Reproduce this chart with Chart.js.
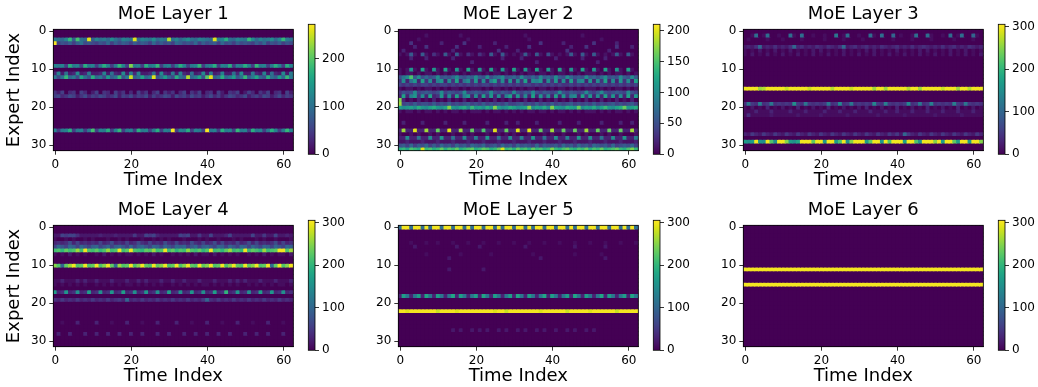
<!DOCTYPE html>
<html><head><meta charset="utf-8">
<script src="https://cdn.jsdelivr.net/npm/chart.js@4.4.1/dist/chart.umd.min.js"></script>
<style>
html,body{margin:0;padding:0;background:#fff;}
body{width:1038px;height:387px;overflow:hidden;position:relative;}
canvas{position:absolute;}
</style></head><body>
<script>
const timeCount = 63;
const expertCount = 32;
const xTickValues = [0, 20, 40, 60];
const yTickValues = [0, 10, 20, 30];
const layerTitles = ['MoE Layer 1', 'MoE Layer 2', 'MoE Layer 3', 'MoE Layer 4', 'MoE Layer 5', 'MoE Layer 6'];
const colorMax = [272, 210, 306, 305, 305, 305];
const cbTicksA = [0, 100, 200];
const cbTicksB = [0, 50, 100, 150, 200];
const cbTicksC = [0, 100, 200, 300];
const colorbarTicks = [cbTicksA, cbTicksB, cbTicksC, cbTicksC, cbTicksC, cbTicksC];

// [expert index, counts over the 63 time steps]; each character c = parseInt(c, 36) * 10 tokens
const layer1Rows = [
  [2,  "ba9ci8ja9q 8cab9da8cb aq9cbad9ba oac9bda9cb a9qbcha9cb aid9cabd9c iba"],
  [3,  "r576858a67 6576958687 5868759686 7598676958 6785967586 7658695768 576"],
  [9,  "cbc5hbc5hb c5bhc5bic5 mbc5hbci5b c5bhc5bci5 bch5cbh5cb hc5ibc5bhc 5hc"],
  [11, "3c2a23d23b 223c2a32d2 b3c223a2d3 2b2c32a23d 2b23c22a3d 22b32c2a32 d2b"],
  [12, "b6ai9b6ga7 h9b6f8ai7b p8ag9bq7af 96ha8o9bg7 kq8ah9bf7a i8bg97ha8f 9ib"],
  [16, "4250340530 2504305240 3052403504 2403504250 3405204350 2530425034 052"],
  [17, "5634652463 5465346254 6354625346 5264536452 4635246534 6245365246 354"],
  [26, "c5bch5bc5b j5cbh5ci5b c5hbc5bh5c br5cbh5cb5 rbc5hbc5ib c5hbc5bhc5 bic"]
];
const layer2Rows = [
  [1,  "0000000100 0000001000 0000000000 0001000000 0000000010 0000000000 000"],
  [2,  "0000010000 0000000010 0000000000 0000100000 0000000000 0001000000 000"],
  [3,  "0003000000 0200000300 0000020000 0000000300 0002000000 0300000200 000"],
  [4,  "0000200300 0000030000 0200000020 0000300000 0000020003 0000000300 020"],
  [5,  "0200000000 0000200000 0000003000 0200000000 0000300000 0000020000 000"],
  [6,  "1016106103 1061061031 0310610610 1016106105 1010161061 0610101610 610"],
  [7,  "0002000200 0000200000 0000000200 0020000000 0200000020 0000200000 000"],
  [8,  "0000000000 0000000002 0000000000 0000002000 0000000000 0020000000 000"],
  [10, "101b10c10b 10c10b10c1 0b10c10b10 c10b10c10b 10c10b10c1 0b10c10b10 c10"],
  [11, "1011010110 1010110101 1101011010 1010110110 1011010101 1101010110 101"],
  [12, "58af6a5756 a5657a6576 a65a578a56 75a6575a67 5a65a7565a 6757a565a6 5a6"],
  [13, "3a28b2c3a2 9b2a3c28a3 b2a29c3a2b 2a3c2a9b2a 3b2a2c39a2 b2a3c2a2b3 a2c"],
  [14, "4343434434 3443434343 4344343434 3434434343 4343343434 3434434343 434"],
  [15, "1011010110 1010110101 1101011010 1010110110 1011010101 1101010110 101"],
  [16, "3545a45654 5a46545a45 6545a54654 a5465a5465 45a546545a 546a545654 a54"],
  [17, "2c29b3a2c2 3b2a2c39b2 a2c3b2a29c 2b3a2c2b3a 2c2b39a2c3 b2a2c3b2a2 c2b"],
  [18, "h201020102 0102010201 0201020102 0102010201 0201020102 0102010201 020"],
  [19, "i454645546 4546454564 5464545464 4564546454 6454564545 4645456454 564"],
  [20, "cabcadbacd bachbacdae bcadbhcabd cabchacbda hcbadcbgac bdacebacdg bcd"],
  [21, "1011010110 1010110101 1101011010 1010110110 1011010101 1101010110 101"],
  [24, "0200002000 0020000200 0002000020 0200002000 0020000200 0002000020 020"],
  [26, "2i22k22i22 g22k22i22g 22f22k22g2 2k22k22g22 i22g22g22i 22g22g22g2 2i2"],
  [27, "1001010010 1000100101 0001001010 1000100010 1001000101 0001010010 001"],
  [28, "22a22822a2 2b22822a22 922b22822a 22922b2282 2a22922b22 a22822a22b 229"],
  [29, "1121112111 2111211121 1121112111 2111211121 1121112111 2111211121 112"],
  [30, "5647465746 4756475647 6574564756 4756547465 5647564756 4765647456 574"],
  [31, "decfedkefd egdfegdefg degfdegkef dgefdgefde hedfgedfeg dfegdefged fhe"]
];
const layer3Rows = [
  [1,  "001b01b001 00b10b0010 0100c01b00 100b10b00a 01001b00b1 0010b01b00 a10"],
  [2,  "0100001000 1000010000 0100001000 0100000001 0000100001 0000010000 100"],
  [4,  "2324a23242 324a342324 324324a234 2342324323 4232423432 3242342324 323"],
  [5,  "1010201020 1020101020 2010102010 1020201010 2010102020 1010201020 101"],
  [6,  "1020102010 2010201020 1020102010 2010201020 1020102010 2010201020 102"],
  [15, "uuuuqruuuu usuuuuusuu uuuruuuusu uuuuquuquu uuuruuquuu uusuuuquur uuu"],
  [19, "4c54d45c45 454f54c545 45c45e45c4 5454e54d54 545e45c45d 45454d54c5 454"],
  [20, "1020103010 2010301020 1030102010 2030102010 3010201030 1020103010 201"],
  [21, "1113111311 1131113111 1311131113 1113111311 3111311131 1131113111 311"],
  [22, "1411111211 1111211111 2111111211 1111121111 1121111111 2111111211 111"],
  [27, "3253253253 2532532532 5325325325 3253253253 52a5325325 3253253253 253"],
  [29, "hfhugfumfu uphfiuuunu uguuhmufpu uuhnuugumu uuhuumguuu puhuunhuuh uup"]
];
const layer4Rows = [
  [2,  "2265664222 2232223222 2522656322 2226562252 2622236222 2262252262 232"],
  [3,  "1001010010 1000100101 0001001010 1000100010 1001000101 0001010010 001"],
  [4,  "3434736343 4363473436 3474363437 4363437436 3473634363 4736343473 634"],
  [5,  "6a86a96a86 9a68a69a86 a69a86a96a 86a9a68a69 a86a96a86a 96a86a96a8 6a9"],
  [6,  "lmknlmqlum lnkmqlmuln umlknmqlmu lnkmlqmlnk mulmknqlmk ulnmkqlmnu umq"],
  [7,  "1010201010 0102010101 1010102010 0101010201 1020101010 0101020101 102"],
  [10, "pmanqumnum numpunbqmn umpunmunpu mnumpunmun pumnumpunm unpumnubnu mpu"],
  [14, "1131113131 1311131113 1131311131 1311311131 1131113131 3111311131 113"],
  [15, "1010101010 0101010101 1010101010 0101010101 1010101010 0101010101 101"],
  [17, "h34g34f34h 34f34g34h3 4f34g34f34 h34f34g34f 34h34k34g3 4f34h34g34 f34"],
  [19, "4353435343 534353453a 3435343534 3534353435 a435343534 3534353435 343"],
  [25, "0010003000 0300010003 0001000300 0030001000 3000100030 0010003000 100"],
  [28, "0300300030 0300300300 3003000300 3000300300 3003003000 3003003000 300"]
];
const layer5Rows = [
  [0,  "buubuububu ubuubuubub uubuububuu buububuubu ubuububuub uubuubuubu bub"],
  [4,  "0001000100 1000100010 0010001000 1000100010 0010001000 1000100010 001"],
  [5,  "0000200000 0000020000 0200000000 0002000000 0000002000 0000200000 000"],
  [7,  "0000000100 0000001000 0000100000 0000010000 0000001000 0001000000 000"],
  [8,  "0000000000 0002000000 0000000000 0000000200 0000000000 0000200000 000"],
  [11, "0000000000 0002000000 0020000000 0000000000 0000000000 0000000000 000"],
  [18, "3hc3ch3ic3 hc3ci3hc3c h3ic3hc3ch 3ic3hc3ci3 hc3ch3ic3h c3ci3hc3ch 3ic"],
  [22, "uutuuuuuuu suuuutuuuu uuuuutuusu uuuuuuutuu uuuusuuuuu tuuuuuusuu uuu"],
  [27, "0000000000 0000202002 0202002020 0202002020 0200202002 0200000000 000"]
];
const layer6Rows = [
  [11, "uuuuuuuuuu uuuuuuuuuu uuuuuuuuuu uuuuuuuuuu uuuuuuuuuu uuuuuuuuuu uuu"],
  [15, "uuuuuuuuuu uuuuuuuuuu uuuuuuuuuu uuuuuuuuuu uuuuuuuuuu uuuuuuuuuu uuu"]
];
const layerRows = [layer1Rows, layer2Rows, layer3Rows, layer4Rows, layer5Rows, layer6Rows];

const VIRIDIS = ['#440154','#471365','#482475','#463480','#414487','#3b528b','#355f8d','#2f6c8e','#2a788e','#25848e','#21918c','#1e9c89','#22a884','#2fb47c','#44bf70','#5ec962','#7ad151','#9bd93c','#bddf26','#dfe318','#fde725'];
function hexToRgb(h){ return [parseInt(h.slice(1,3),16), parseInt(h.slice(3,5),16), parseInt(h.slice(5,7),16)]; }
function viridis(f){
  f = Math.max(0, Math.min(1, f));
  const n = VIRIDIS.length - 1, p = f * n;
  const i = Math.min(n - 1, Math.floor(p)), t = p - i;
  const a = hexToRgb(VIRIDIS[i]), b = hexToRgb(VIRIDIS[i + 1]);
  return 'rgb(' + a.map((v, k) => Math.round(v + (b[k] - v) * t)).join(',') + ')';
}
function decodeRow(s){
  const c = s.replace(/\s+/g, '');
  const out = [];
  for (let t = 0; t < timeCount; t++) out.push(parseInt(c[t] || '0', 36) * 10);
  return out;
}
function buildMatrix(rows){
  const m = [];
  for (let r = 0; r < expertCount; r++) m.push(new Array(timeCount).fill(0));
  rows.forEach(([r, s]) => { m[r] = decodeRow(s); });
  return m;
}

Chart.defaults.font.family = "'DejaVu Sans', sans-serif";
Chart.defaults.color = '#000';

const framePlugin = {
  id: 'frame',
  beforeDatasetsDraw(chart, args, opts){
    if (!opts.fill) return;
    const a = chart.chartArea, ctx = chart.ctx;
    ctx.save();
    ctx.fillStyle = opts.fill;
    ctx.fillRect(a.left, a.top, a.right - a.left, a.bottom - a.top);
    ctx.restore();
  },
  afterDraw(chart, args, opts){
    const a = chart.chartArea, ctx = chart.ctx;
    ctx.save();
    ctx.strokeStyle = opts.color || '#000';
    ctx.lineWidth = opts.width || 0.8;
    ctx.strokeRect(a.left, a.top, a.right - a.left, a.bottom - a.top);
    ctx.restore();
  }
};

const colLeft = [0, 345, 690];
const rowTop = [0, 196];

function makeCanvas(left, top, w, h){
  const c = document.createElement('canvas');
  c.width = w; c.height = h;
  c.style.left = left + 'px'; c.style.top = top + 'px';
  c.style.width = w + 'px'; c.style.height = h + 'px';
  document.body.appendChild(c);
  return c.getContext('2d');
}

const tickFont = {size: 12};
const labelFont = {size: 18};

layerRows.forEach((rows, L) => {
  const col = L % 3, row = Math.floor(L / 3);
  const vmax = colorMax[L];
  const matrix = buildMatrix(rows);
  const datasets = matrix.map((vals, r) => ({
    data: vals.map((v, t) => ({x: t, y: [r - 0.5, r + 0.5]})),
    backgroundColor: vals.map(v => viridis(v / vmax)),
    borderWidth: 0,
    inflateAmount: 0.5,
    grouped: false,
    barPercentage: 1,
    categoryPercentage: 1
  }));
  new Chart(makeCanvas(colLeft[col], rowTop[row], 300, 192), {
    type: 'bar',
    data: {datasets},
    options: {
      responsive: false, animation: false, events: [],
      layout: {padding: {left: 0, right: 6.7, top: 0, bottom: 0}},
      plugins: {
        legend: {display: false}, tooltip: {enabled: false},
        title: {display: true, text: layerTitles[L], fullSize: false, color: '#000',
                font: {size: 18, weight: 'normal'}, padding: {top: 3.5, bottom: 4.2}},
        frame: {color: '#000', width: 0.8, fill: VIRIDIS[0]}
      },
      scales: {
        x: {
          type: 'linear', min: -0.5, max: 62.5, bounds: 'data', offset: false,
          afterBuildTicks: s => { s.ticks = xTickValues.map(v => ({value: v})); },
          afterFit: s => { s.height = 41.3; },
          grid: {display: true, offset: false, drawOnChartArea: false, drawTicks: true, tickLength: 4, tickColor: '#000', tickWidth: 0.8},
          border: {display: true, color: '#000', width: 0.8},
          ticks: {font: tickFont, color: '#000', padding: 3, maxRotation: 0, autoSkip: false},
          title: {display: true, text: 'Time Index', color: '#000', font: labelFont, padding: {top: 0, bottom: 0.7}}
        },
        y: {
          type: 'linear', reverse: true, min: -0.5, max: 31.5, bounds: 'data',
          afterBuildTicks: s => { s.ticks = yTickValues.map(v => ({value: v})); },
          afterFit: s => { s.width = 53.3; },
          grid: {display: true, offset: false, drawOnChartArea: false, drawTicks: true, tickLength: 4, tickColor: '#000', tickWidth: 0.8},
          border: {display: true, color: '#000', width: 0.8},
          ticks: {font: tickFont, color: '#000', padding: 3, autoSkip: false},
          title: {display: col === 0, text: 'Expert Index', color: '#000', font: labelFont, padding: {top: 3.5, bottom: 0}}
        }
      }
    },
    plugins: [framePlugin]
  });

  // colorbar
  new Chart(makeCanvas(colLeft[col] + 300, rowTop[row], 50, 175), {
    type: 'bar',
    data: {labels: [''], datasets: [{
      data: [vmax],
      backgroundColor: (c) => {
        const a = c.chart.chartArea;
        if (!a) return VIRIDIS[0];
        const g = c.chart.ctx.createLinearGradient(0, a.bottom, 0, a.top);
        VIRIDIS.forEach((hc, i) => g.addColorStop(i / (VIRIDIS.length - 1), hc));
        return g;
      },
      borderWidth: 0, barPercentage: 1, categoryPercentage: 1
    }]},
    options: {
      responsive: false, animation: false, events: [],
      layout: {padding: {left: 8.3, right: 0, top: 24.3, bottom: 20.7}},
      plugins: {legend: {display: false}, tooltip: {enabled: false}, title: {display: false},
                frame: {color: '#000', width: 0.8}},
      scales: {
        x: {display: false},
        y: {
          position: 'right', min: 0, max: vmax, bounds: 'data',
          afterBuildTicks: s => { s.ticks = colorbarTicks[L].map(v => ({value: v})); },
          afterFit: s => { s.width = 35; },
          grid: {display: true, drawOnChartArea: false, drawTicks: true, tickLength: 4, tickColor: '#000', tickWidth: 0.8},
          border: {display: false},
          ticks: {font: tickFont, color: '#000', padding: 3, autoSkip: false}
        }
      }
    },
    plugins: [framePlugin]
  });
});
</script>
</body></html>
